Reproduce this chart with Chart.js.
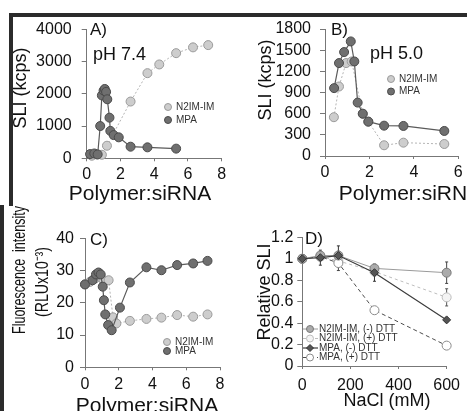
<!DOCTYPE html>
<html><head><meta charset="utf-8">
<script src="https://cdn.jsdelivr.net/npm/chart.js@4.4.1/dist/chart.umd.min.js"></script>
<style>
html,body{margin:0;padding:0;background:#fff;}
#wrap{position:relative;width:467px;height:411px;overflow:hidden;background:#fff;}
#wrap canvas{position:absolute;left:0;top:0;}
</style></head><body>
<div id="wrap">
<canvas id="cFrame" width="467" height="411"></canvas>
<canvas id="cA" width="467" height="411"></canvas>
<canvas id="cB" width="467" height="411"></canvas>
<canvas id="cC" width="467" height="411"></canvas>
<canvas id="cD" width="467" height="411"></canvas>
</div>
<script>
// ---------------- DATA ----------------
// Panel A: pH 7.4, SLI (kcps) vs Polymer:siRNA
const A_ratio_n2im = [0.3, 0.6, 0.9, 1.2, 2.6, 3.6, 4.3, 5.3, 6.3, 7.2];
const A_sli_n2im   = [80, 120, 110, 390, 1760, 2640, 2910, 3260, 3440, 3510];
const A_ratio_mpa  = [0.2, 0.45, 0.65, 0.8, 0.9, 1.0, 1.07, 1.15, 1.22, 1.35, 1.4, 1.6, 1.9, 2.6, 3.6, 5.3];
const A_sli_mpa    = [130, 150, 120, 1000, 1950, 2100, 2150, 2060, 1830, 1260, 850, 720, 650, 360, 340, 300];
const A_xTicks = [0, 8, 2];      // min, max, step
const A_yTicks = [0, 4000, 1000];

// Panel B: pH 5.0
const B_ratio_n2im = [0.4, 0.63, 0.95, 1.2, 1.7, 1.95, 2.66, 3.53, 5.37];
const B_sli_n2im   = [550, 985, 1317, 1340, 597, 487, 152, 189, 170];
const B_ratio_mpa  = [0.41, 0.63, 0.86, 1.16, 1.32, 1.47, 1.7, 1.95, 2.66, 3.53, 5.37];
const B_sli_mpa    = [962, 1317, 1473, 1624, 1340, 757, 600, 487, 430, 426, 355];
const B_xTicks = [0, 6, 2];
const B_yTicks = [0, 1800, 300];

// Panel C: Fluorescence intensity (RLUx10^-3)
const C_ratio_n2im = [0, 0.3, 0.6, 0.85, 1.1, 1.4, 1.66, 1.86, 2.66, 3.64, 4.53, 5.46, 6.41, 7.26];
const C_fl_n2im    = [25.7, 26.5, 27.5, 28.5, 27, 27, 15.5, 13.6, 14.4, 15, 15.4, 16.2, 15.7, 16.4];
const C_ratio_mpa  = [0, 0.45, 0.65, 0.8, 0.93, 1.05, 1.12, 1.2, 1.37, 1.58, 2.07, 2.66, 3.64, 4.53, 5.46, 6.41, 7.26];
const C_fl_mpa     = [25.7, 27, 28.8, 29.4, 28.8, 25, 20.8, 16.4, 13.1, 11.5, 18.5, 26.3, 31, 30.1, 31.7, 32.2, 33];
const C_xTicks = [0, 8, 2];
const C_yTicks = [0, 40, 10];

// Panel D: Relative SLI vs NaCl (mM)
const D_nacl = [0, 75, 150, 300, 600];
const D_n2im_minus = [1.0, 1.03, 1.03, 0.91, 0.87];
const D_n2im_plus  = [1.0, 1.02, 0.98, 0.88, 0.64];
const D_mpa_minus  = [1.0, 1.01, 1.03, 0.87, 0.43];
const D_mpa_plus   = [1.0, 1.02, 0.96, 0.52, 0.19];
const D_err_n2im_minus = [0, 0.03, 0.04, 0.03, 0.1];
const D_err_n2im_plus  = [0, 0.03, 0.05, 0.04, 0.08];
const D_err_mpa_minus  = [0, 0.07, 0.09, 0.08, 0.02];
const D_err_mpa_plus   = [0, 0.03, 0.07, 0.03, 0.02];
const D_xTicks = [0, 600, 200];
const D_yTicks = [0, 1.2, 0.2];

// ---------------- STYLE / LAYOUT ----------------
const FONT = "'Liberation Sans', Arial, Helvetica, sans-serif";
const W = 467, H = 411;
const pts = (xs, ys) => xs.map((x, i) => ({x: x, y: ys[i]}));
const fmt = v => String(Math.round(v * 100) / 100);

// frame (scan border)
(function(){
  const c = document.getElementById('cFrame').getContext('2d');
  c.fillStyle = '#fff'; c.fillRect(0,0,W,H);
  c.fillStyle = '#2b2b2b';
  c.fillRect(9, 13, 458, 4);
  c.fillRect(9, 13, 4, 193);
  c.fillRect(0, 205, 4, 206);
})();

function drawMarker(ctx, style, x, y, r, fill, stroke) {
  ctx.save();
  ctx.setLineDash([]);
  ctx.fillStyle = fill; ctx.strokeStyle = stroke; ctx.lineWidth = 1;
  ctx.beginPath();
  if (style === 'rectRot') {
    ctx.moveTo(x, y - r); ctx.lineTo(x + r, y); ctx.lineTo(x, y + r); ctx.lineTo(x - r, y); ctx.closePath();
  } else {
    ctx.arc(x, y, r, 0, Math.PI * 2);
  }
  ctx.fill(); ctx.stroke();
  ctx.restore();
}

function makeDecor(cfg) {
  return {
    id: 'decor',
    beforeDatasetsDraw(chart) {
      const ctx = chart.ctx, xs = chart.scales.x, ys = chart.scales.y;
      chart.data.datasets.forEach(ds => {
        if (!ds.errors) return;
        ctx.save(); ctx.setLineDash([]); ctx.strokeStyle = ds.errorColor; ctx.lineWidth = 1;
        ds.data.forEach((p, i) => {
          const e = ds.errors[i]; if (!e) return;
          const px = xs.getPixelForValue(p.x);
          const y1 = ys.getPixelForValue(p.y + e), y2 = ys.getPixelForValue(p.y - e);
          ctx.beginPath();
          ctx.moveTo(px, y1); ctx.lineTo(px, y2);
          ctx.moveTo(px - 1.5, y1); ctx.lineTo(px + 1.5, y1);
          ctx.moveTo(px - 1.5, y2); ctx.lineTo(px + 1.5, y2);
          ctx.stroke();
        });
        ctx.restore();
      });
    },
    afterDraw(chart) {
      const ctx = chart.ctx;
      ctx.save();
      ctx.textBaseline = 'middle';
      cfg.texts.forEach(t => {
        ctx.save();
        ctx.font = (t.weight || 'normal') + ' ' + t.size + 'px ' + FONT;
        ctx.fillStyle = t.color || '#111';
        if (t.rotate) {
          ctx.translate(t.x, t.y); ctx.rotate(-Math.PI / 2);
          ctx.textAlign = 'center';
          if (t.maxWidth) ctx.fillText(t.text, 0, 0, t.maxWidth); else ctx.fillText(t.text, 0, 0);
        } else {
          ctx.textAlign = t.align || 'left';
          if (t.maxWidth) ctx.fillText(t.text, t.x, t.y, t.maxWidth); else ctx.fillText(t.text, t.x, t.y);
        }
        ctx.restore();
      });
      const lg = cfg.legend;
      chart.data.datasets.forEach((ds, i) => {
        const y = lg.y + i * lg.dy;
        if (lg.line) {
          ctx.save(); ctx.strokeStyle = ds.borderColor; ctx.lineWidth = ds.borderWidth;
          ctx.setLineDash(ds.borderDash || []);
          ctx.beginPath(); ctx.moveTo(lg.line[0], y); ctx.lineTo(lg.line[1], y); ctx.stroke(); ctx.restore();
        }
        drawMarker(ctx, ds.pointStyle, lg.x, y, lg.r, ds.pointBackgroundColor, ds.pointBorderColor);
        ctx.font = lg.size + 'px ' + FONT; ctx.fillStyle = lg.color; ctx.textAlign = 'left';
        ctx.fillText(ds.label, lg.textX, y);
      });
      ctx.restore();
    }
  };
}

function makePanel(id, cfg) {
  const a = cfg.area;
  const tickFont = {family: FONT, size: 16};
  new Chart(document.getElementById(id), {
    type: 'line',
    data: {datasets: cfg.datasets},
    options: {
      responsive: false, animation: false, devicePixelRatio: 1,
      layout: {padding: {left: a.left - cfg.yWidth, top: a.top, right: W - a.right, bottom: H - a.bottom - cfg.xHeight}},
      plugins: {legend: {display: false}, tooltip: {enabled: false}},
      elements: {line: {tension: 0}},
      scales: {
        x: {
          type: 'linear', min: cfg.xTicks[0], max: cfg.xTicks[1],
          ticks: {stepSize: cfg.xTicks[2], font: tickFont, color: '#111', padding: cfg.xPad, maxRotation: 0, autoSkip: false, callback: fmt},
          grid: {drawOnChartArea: false, drawTicks: true, tickLength: 3, color: '#777'},
          border: {color: '#777', width: 1},
          afterFit: s => { s.height = cfg.xHeight; }
        },
        y: {
          type: 'linear', min: cfg.yTicks[0], max: cfg.yTicks[1],
          ticks: {stepSize: cfg.yTicks[2], font: tickFont, color: '#111', padding: cfg.yPad, autoSkip: false, callback: fmt},
          grid: {drawOnChartArea: false, drawTicks: true, tickLength: 5, color: '#777'},
          border: {color: '#777', width: 1},
          afterFit: s => { s.width = cfg.yWidth; }
        }
      }
    },
    plugins: [makeDecor(cfg)]
  });
}

const N2IM_STYLE = {borderColor: '#b4b4b4', borderWidth: 1, borderDash: [2, 2], pointRadius: 4.5,
  pointBackgroundColor: '#cdcdcd', pointBorderColor: '#9a9a9a', pointBorderWidth: 1, pointStyle: 'circle',
  fill: false, clip: false, order: 1};
const MPA_STYLE = {borderColor: '#5a5a5a', borderWidth: 1.2, pointRadius: 4.5,
  pointBackgroundColor: '#6f6f6f', pointBorderColor: '#4a4a4a', pointBorderWidth: 1, pointStyle: 'circle',
  fill: false, clip: false, order: 0};

// Panel A
makePanel('cA', {
  area: {left: 86.7, right: 221.7, top: 29.3, bottom: 158.3},
  yWidth: 76, xHeight: 40, yPad: 10, xPad: 4,
  xTicks: A_xTicks, yTicks: A_yTicks,
  datasets: [
    Object.assign({label: 'N2IM-IM', data: pts(A_ratio_n2im, A_sli_n2im)}, N2IM_STYLE),
    Object.assign({label: 'MPA', data: pts(A_ratio_mpa, A_sli_mpa)}, MPA_STYLE)
  ],
  texts: [
    {text: 'A)', x: 90, y: 30, size: 17},
    {text: 'pH 7.4', x: 93, y: 55, size: 18},
    {text: 'SLI (kcps)', x: 21, y: 88, size: 18, rotate: true},
    {text: 'Polymer:siRNA', x: 140, y: 194, size: 21, align: 'center'}
  ],
  legend: {x: 168, y: 107, dy: 13, textX: 176, r: 3.5, size: 10, color: '#333'}
});

// Panel B
makePanel('cB', {
  area: {left: 325, right: 458.3, top: 29, bottom: 156},
  yWidth: 76, xHeight: 40, yPad: 9, xPad: 4,
  xTicks: B_xTicks, yTicks: B_yTicks,
  datasets: [
    Object.assign({label: 'N2IM-IM', data: pts(B_ratio_n2im, B_sli_n2im)}, N2IM_STYLE),
    Object.assign({label: 'MPA', data: pts(B_ratio_mpa, B_sli_mpa)}, MPA_STYLE)
  ],
  texts: [
    {text: 'B)', x: 331, y: 30, size: 17},
    {text: 'pH 5.0', x: 370, y: 54, size: 18},
    {text: 'SLI (kcps)', x: 266, y: 80, size: 18, rotate: true},
    {text: 'Polymer:siRNA', x: 410, y: 194, size: 21, align: 'center'}
  ],
  legend: {x: 391, y: 79, dy: 12.5, textX: 399, r: 3.5, size: 10, color: '#333'}
});

// Panel C
makePanel('cC', {
  area: {left: 85, right: 220, top: 238.3, bottom: 367.3},
  yWidth: 70, xHeight: 40, yPad: 6, xPad: 5,
  xTicks: C_xTicks, yTicks: C_yTicks,
  datasets: [
    Object.assign({label: 'N2IM-IM', data: pts(C_ratio_n2im, C_fl_n2im)}, N2IM_STYLE),
    Object.assign({label: 'MPA', data: pts(C_ratio_mpa, C_fl_mpa)}, MPA_STYLE)
  ],
  texts: [
    {text: 'C)', x: 90, y: 240, size: 17},
    {text: 'Fluorescence  intensity', x: 20, y: 270, size: 18, rotate: true, maxWidth: 128},
    {text: '(RLUx10\u207B\u00B3)', x: 43, y: 282, size: 18, rotate: true, maxWidth: 70},
    {text: 'Polymer:siRNA', x: 147, y: 406, size: 21, align: 'center'}
  ],
  legend: {x: 167, y: 342, dy: 9, textX: 175, r: 3.5, size: 10, color: '#333'}
});

// Panel D
const D_STYLES = [
  {borderColor: '#9a9a9a', borderWidth: 1, pointRadius: 4.5, pointBackgroundColor: '#ababab', pointBorderColor: '#7a7a7a', pointStyle: 'circle', errorColor: '#444', order: 1},
  {borderColor: '#bdbdbd', borderWidth: 1, borderDash: [3, 3], pointRadius: 4.5, pointBackgroundColor: '#f4f4f4', pointBorderColor: '#bdbdbd', pointStyle: 'circle', errorColor: '#555', order: 3},
  {borderColor: '#3c3c3c', borderWidth: 1.2, pointRadius: 4, pointBackgroundColor: '#555', pointBorderColor: '#333', pointStyle: 'rectRot', errorColor: '#333', order: 0},
  {borderColor: '#4d4d4d', borderWidth: 1, borderDash: [4, 3], pointRadius: 4.5, pointBackgroundColor: '#ffffff', pointBorderColor: '#8a8a8a', pointStyle: 'circle', errorColor: '#444', order: 2}
];
makePanel('cD', {
  area: {left: 302.3, right: 451.5, top: 237.3, bottom: 366},
  yWidth: 70, xHeight: 40, yPad: 4, xPad: 7,
  xTicks: D_xTicks, yTicks: D_yTicks,
  datasets: [
    Object.assign({label: 'N2IM-IM, (-) DTT', data: pts(D_nacl, D_n2im_minus), errors: D_err_n2im_minus, fill: false, clip: false, pointBorderWidth: 1}, D_STYLES[0]),
    Object.assign({label: 'N2IM-IM, (+) DTT', data: pts(D_nacl, D_n2im_plus), errors: D_err_n2im_plus, fill: false, clip: false, pointBorderWidth: 1}, D_STYLES[1]),
    Object.assign({label: 'MPA, (-) DTT', data: pts(D_nacl, D_mpa_minus), errors: D_err_mpa_minus, fill: false, clip: false, pointBorderWidth: 1}, D_STYLES[2]),
    Object.assign({label: 'MPA, (+) DTT', data: pts(D_nacl, D_mpa_plus), errors: D_err_mpa_plus, fill: false, clip: false, pointBorderWidth: 1}, D_STYLES[3])
  ],
  texts: [
    {text: 'D)', x: 305, y: 239, size: 17},
    {text: 'Relative SLI', x: 265, y: 292, size: 18, rotate: true},
    {text: 'NaCl (mM)', x: 387, y: 401, size: 18, align: 'center'}
  ],
  legend: {x: 310, y: 329, dy: 9.5, textX: 319, r: 3.5, size: 10, color: '#333', line: [303, 318]}
});
</script>
</body></html>
